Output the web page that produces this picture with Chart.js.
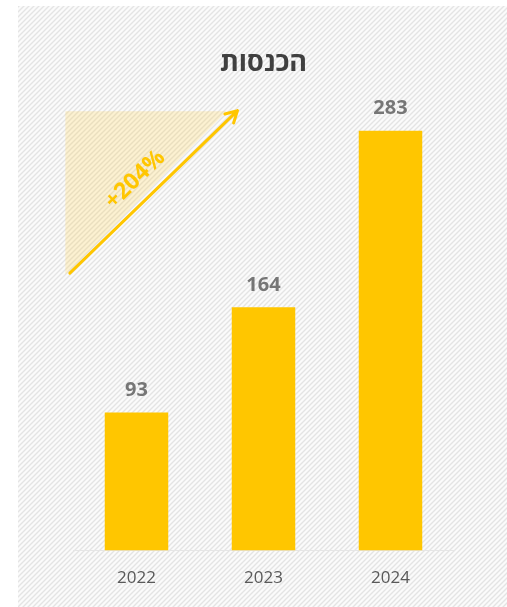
<!DOCTYPE html>
<html lang="he">
<head>
<meta charset="utf-8">
<title>הכנסות</title>
<script src="https://cdn.jsdelivr.net/npm/chart.js@4.4.1/dist/chart.umd.min.js"></script>
<style>
  html, body { margin: 0; padding: 0; background: #ffffff; }
  #wrap { position: relative; width: 507px; height: 607px; }
</style>
</head>
<body>
<div id="wrap"><canvas id="revenueChart"></canvas></div>
<script>
// Revenue per year
const years = ['2022', '2023', '2024'];
const revenue = [93, 164, 283];
const chartTitle = 'הכנסות';

const yMax = 300;
const barColor = '#FFC600';
const FONT = '"Open Sans", "DejaVu Sans", sans-serif';

// growth from first to last year
const growth = Math.round((revenue[revenue.length - 1] - revenue[0]) / revenue[0] * 100);

// striped backdrop
function stripePattern(ctx) {
    const p = document.createElement('canvas');
    p.width = 5; p.height = 5;
    const c = p.getContext('2d');
    c.fillStyle = '#fbfbfb';
    c.fillRect(0, 0, 5, 5);
    c.strokeStyle = '#e4e4e4';
    c.lineWidth = 1.4;
    c.beginPath();
    c.moveTo(-1, 6); c.lineTo(6, -1);
    c.moveTo(-1, 1); c.lineTo(1, -1);
    c.moveTo(4, 6); c.lineTo(6, 4);
    c.stroke();
    return ctx.createPattern(p, 'repeat');
}

const backdrop = {
    id: 'backdrop',
    beforeDraw(chart) {
        const ctx = chart.ctx;
        ctx.save();
        ctx.fillStyle = '#ffffff';
        ctx.fillRect(0, 0, chart.width, chart.height);
        ctx.fillStyle = stripePattern(ctx);
        ctx.fillRect(18, 6, chart.width - 18, chart.height - 6);
        ctx.restore();
    }
};

// growth triangle + arrow, placed in data units
const growthArrow = {
    id: 'growthArrow',
    beforeDatasetsDraw(chart) {
        const { ctx, scales: { x, y } } = chart;
        const x0 = x.getPixelForValue(-0.56), x1 = x.getPixelForValue(0.71);
        const yTop = y.getPixelForValue(296), yBot = y.getPixelForValue(186);
        ctx.save();
        ctx.fillStyle = 'rgba(255, 205, 60, 0.22)';
        ctx.beginPath();
        ctx.moveTo(x0, yTop);
        ctx.lineTo(x1, yTop);
        ctx.lineTo(x0, yBot);
        ctx.closePath();
        ctx.fill();

        const ax0 = x.getPixelForValue(-0.525), ay0 = y.getPixelForValue(187);
        const ax1 = x.getPixelForValue(0.795), ay1 = y.getPixelForValue(296.5);
        const ang = Math.atan2(ay1 - ay0, ax1 - ax0);
        ctx.strokeStyle = barColor;
        ctx.lineWidth = 3;
        ctx.lineCap = 'round';
        ctx.lineJoin = 'round';
        ctx.beginPath();
        ctx.moveTo(ax0, ay0);
        ctx.lineTo(ax1, ay1);
        const head = 13;
        ctx.moveTo(ax1 - head * Math.cos(ang - 0.5), ay1 - head * Math.sin(ang - 0.5));
        ctx.lineTo(ax1, ay1);
        ctx.lineTo(ax1 - head * Math.cos(ang + 0.5), ay1 - head * Math.sin(ang + 0.5));
        ctx.stroke();

        const tx = x.getPixelForValue(-0.01), ty = y.getPixelForValue(250);
        ctx.translate(tx, ty);
        ctx.rotate(ang);
        ctx.fillStyle = barColor;
        ctx.font = 'bold 23px ' + FONT;
        ctx.textAlign = 'center';
        ctx.textBaseline = 'middle';
        ctx.fillText('+' + growth + '%', 0, 0);
        ctx.restore();
    }
};

// numbers above bars
const valueLabels = {
    id: 'valueLabels',
    afterDatasetsDraw(chart) {
        const ctx = chart.ctx;
        const meta = chart.getDatasetMeta(0);
        ctx.save();
        ctx.fillStyle = '#767676';
        ctx.font = 'bold 20px ' + FONT;
        ctx.textAlign = 'center';
        ctx.textBaseline = 'middle';
        meta.data.forEach((bar, i) => {
            ctx.fillText(String(revenue[i]), bar.x, bar.y - 22);
        });
        ctx.restore();
    }
};

new Chart(document.getElementById('revenueChart'), {
    type: 'bar',
    data: {
        labels: years,
        datasets: [{
            data: revenue,
            backgroundColor: barColor,
            barPercentage: 0.5,
            categoryPercentage: 1
        }]
    },
    options: {
        responsive: true,
        maintainAspectRatio: false,
        animation: false,
        layout: { padding: { left: 73, right: 53, top: 0, bottom: 10 } },
        plugins: {
            legend: { display: false },
            tooltip: { enabled: false },
            title: {
                display: true,
                text: chartTitle,
                color: '#404040',
                font: { family: FONT, size: 27, weight: 'bold' },
                padding: { top: 47, bottom: 26 }
            }
        },
        scales: {
            x: {
                grid: { display: false },
                border: { display: true, color: '#e6e6e6', width: 1 },
                ticks: { color: '#595959', font: { family: FONT, size: 17 }, padding: 9 }
            },
            y: {
                display: false,
                min: 0,
                max: yMax
            }
        }
    },
    plugins: [backdrop, growthArrow, valueLabels]
});
</script>
</body>
</html>
